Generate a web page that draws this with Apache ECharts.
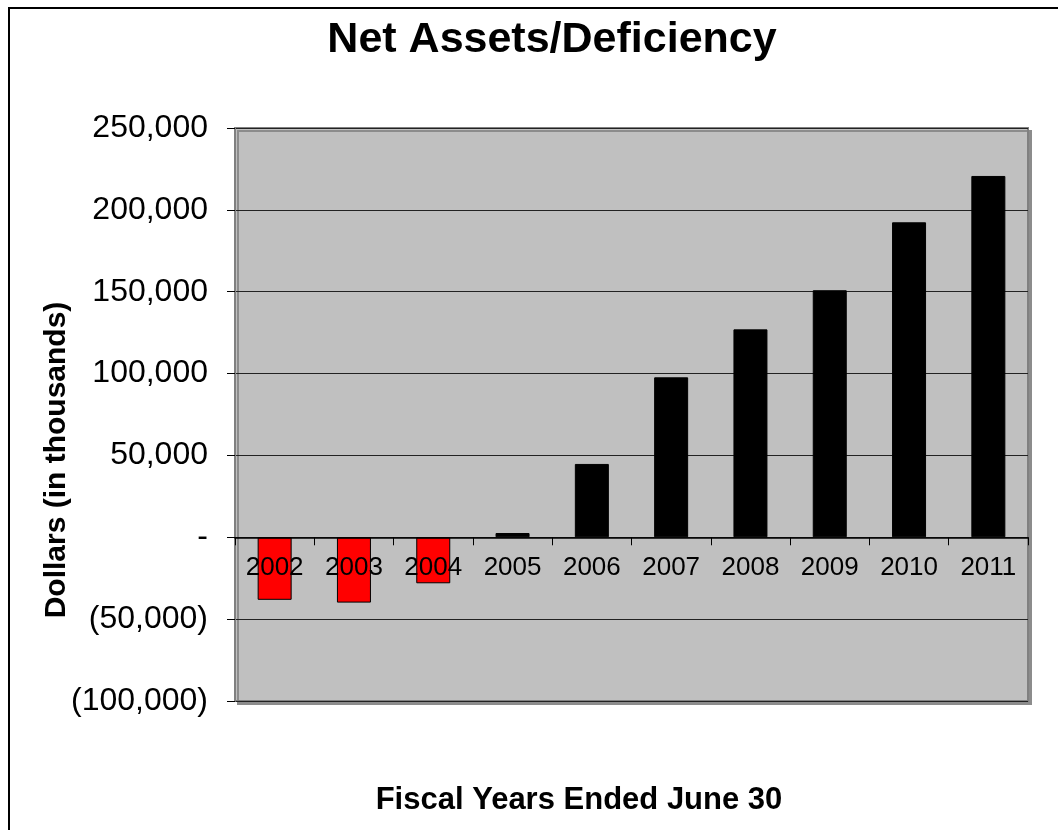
<!DOCTYPE html>
<html>
<head>
<meta charset="utf-8">
<script src="https://cdn.jsdelivr.net/npm/echarts@6/dist/echarts.min.js"></script>
<style>
html,body{margin:0;padding:0;background:#fff;}
#chart{width:1058px;height:830px;}
</style>
</head>
<body>
<div id="chart"></div>
<script>
var years = ['2002','2003','2004','2005','2006','2007','2008','2009','2010','2011'];
var netAssets = [-38200, -39900, -28100, 2600, 44800, 97700, 127000, 150900, 192400, 220700];
var yTicks = [-100000, -50000, 0, 50000, 100000, 150000, 200000, 250000];
var titleText = 'Net Assets/Deficiency';
var yTitle = 'Dollars (in thousands)';
var xTitle = 'Fiscal Years Ended June 30';

var FONT = '"Liberation Sans", Arial, sans-serif';
var GRID = {left: 235, right: 30, top: 128, bottom: 129};
var plotH = 830 - GRID.top - GRID.bottom;
var yMin = yTicks[0], yMax = yTicks[yTicks.length - 1];
// place the category axis on the zero line of the value axis
var xOffset = -plotH * (0 - yMin) / (yMax - yMin);

function fmt(v) {
  if (v === 0) return '-';
  var s = Math.abs(v).toString().replace(/\B(?=(\d{3})+(?!\d))/g, ',');
  return v < 0 ? '(' + s + ')' : s;
}

var chart = echarts.init(document.getElementById('chart'), null, {renderer: 'canvas'});
chart.setOption({
  animation: false,
  backgroundColor: '#ffffff',
  graphic: [
    {type: 'polyline', shape: {points: [[9, 830], [9, 8], [1058, 8]]}, style: {stroke: '#000', lineWidth: 2, fill: null}},
    {type: 'text', x: 552, y: 40, style: {text: titleText, font: 'bold 43px ' + FONT, fill: '#000', textAlign: 'center', textVerticalAlign: 'middle'}},
    {type: 'text', x: 579, y: 800, style: {text: xTitle, font: 'bold 31px ' + FONT, fill: '#000', textAlign: 'center', textVerticalAlign: 'middle'}},
    {type: 'text', x: 57, y: 460, rotation: Math.PI / 2, style: {text: yTitle, font: 'bold 30px ' + FONT, fill: '#000', textAlign: 'center', textVerticalAlign: 'middle'}}
  ],
  grid: {
    left: GRID.left, right: GRID.right, top: GRID.top, bottom: GRID.bottom,
    show: true,
    backgroundColor: '#C0C0C0',
    borderColor: '#808080',
    borderWidth: 2,
    shadowColor: '#8c8c8c',
    shadowOffsetX: 3,
    shadowOffsetY: 3,
    shadowBlur: 0
  },
  xAxis: {
    type: 'category',
    data: years,
    z: 5,
    position: 'bottom',
    offset: xOffset,
    axisLine: {onZero: false, lineStyle: {color: '#000', width: 1.5}},
    axisTick: {show: true, alignWithLabel: false, length: 8, lineStyle: {color: '#000', width: 1}},
    axisLabel: {color: '#000', fontSize: 26, fontFamily: FONT, margin: 18, interval: 0},
    splitLine: {show: false}
  },
  yAxis: {
    type: 'value',
    min: yMin,
    max: yMax,
    interval: 50000,
    axisLine: {show: true, onZero: false, lineStyle: {color: '#808080', width: 2}},
    axisTick: {show: true, length: 8, lineStyle: {color: '#000', width: 1}},
    axisLabel: {color: '#000', fontSize: 32, fontFamily: FONT, margin: 27, formatter: fmt},
    splitLine: {show: true, lineStyle: {color: '#222', width: 1.2}}
  },
  series: [{
    type: 'bar',
    barWidth: 34,
    data: netAssets.map(function (v) {
      return {value: v, itemStyle: {color: v < 0 ? '#FF0000' : '#000000', borderColor: '#000', borderWidth: 1}};
    })
  }]
});
</script>
</body>
</html>
